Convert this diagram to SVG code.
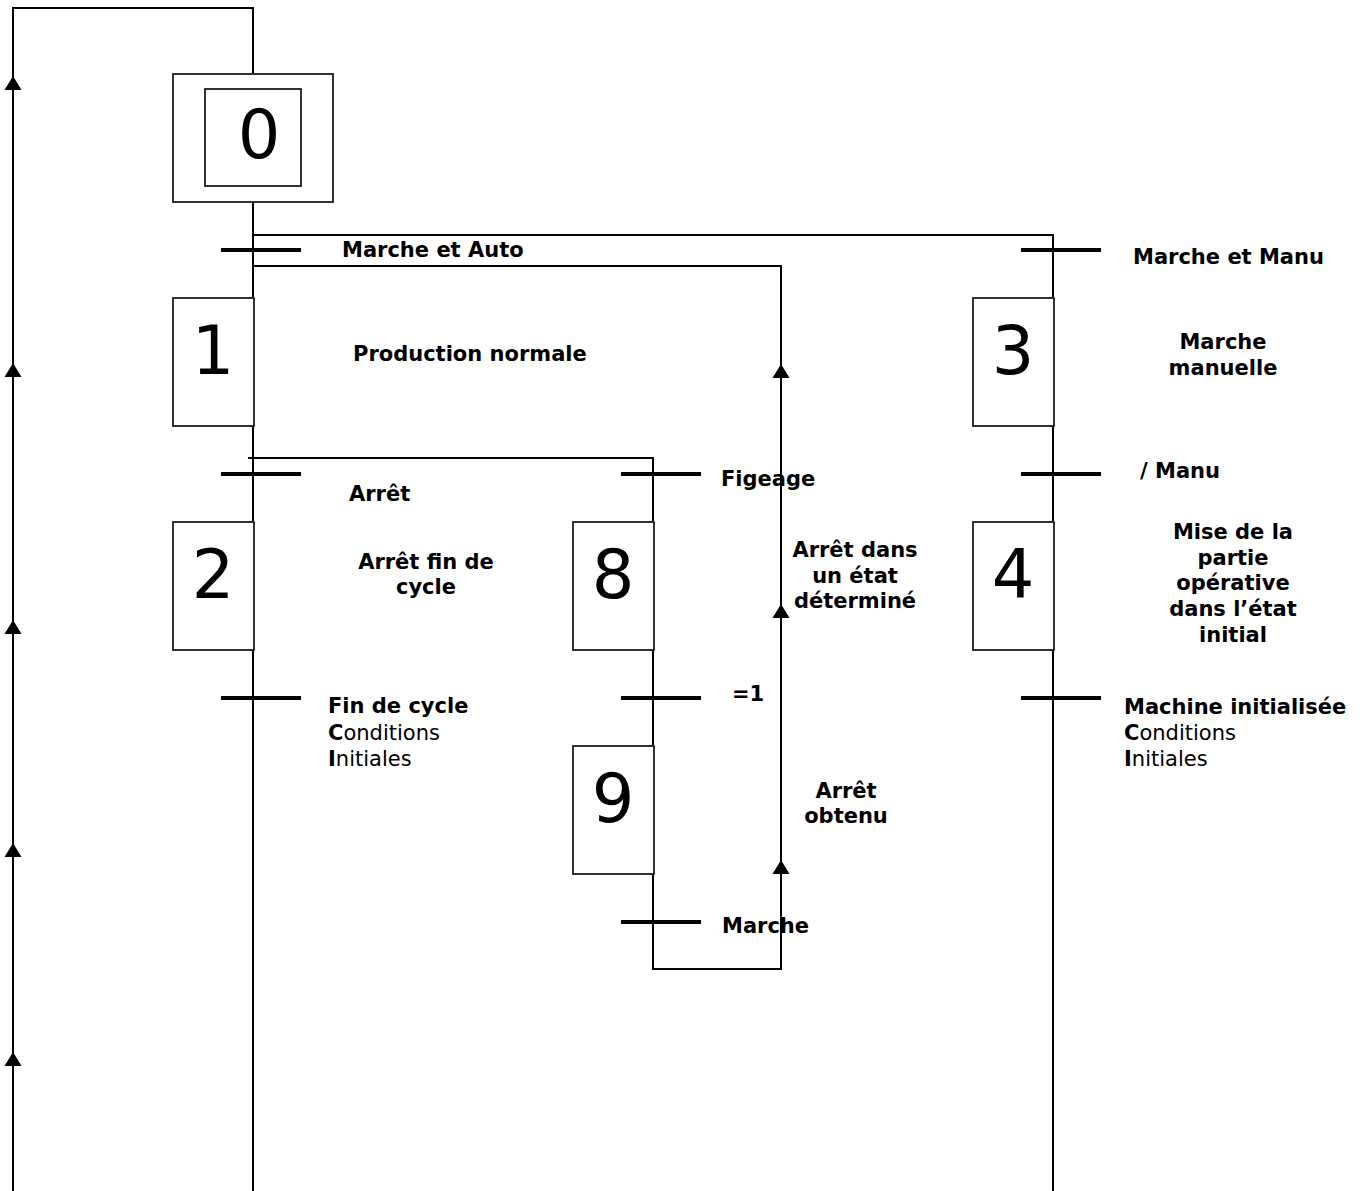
<svg xmlns="http://www.w3.org/2000/svg" xmlns:xlink="http://www.w3.org/1999/xlink" width="1365" height="1191" viewBox="0 0 1365 1191">
<style>
.ln{fill:none;stroke:#000;stroke-width:2}
.box{fill:#fff;stroke:#000;stroke-width:1.6}
.bar{stroke:#000;stroke-width:4}
.num{font-family:"DejaVu Sans","Liberation Sans",sans-serif;font-size:67px;fill:#000;text-anchor:middle}
.lb{font-family:"DejaVu Sans","Liberation Sans",sans-serif;font-size:21px;font-weight:bold;fill:#000}
.rg{font-family:"DejaVu Sans","Liberation Sans",sans-serif;font-size:21px;font-weight:normal;fill:#000}
.c{text-anchor:middle}
</style>
<defs>
<path id="arr" d="M0,0 L8.5,14 L-8.5,14 Z" fill="#000"/>
<line id="bar" x1="-32" y1="0" x2="48" y2="0" class="bar"/>
</defs>
<rect width="1365" height="1191" fill="#fff"/>
<g id="connectors">
<path class="ln" d="M253,73 V8 H13 V1191"/>
<path class="ln" d="M253,202 V297 M253,426 V521 M253,650 V1191"/>
<path class="ln" d="M253,235 H1053 V297 M1053,426 V521 M1053,650 V1191"/>
<path class="ln" d="M653,874 V969 H781 V266 H253"/>
<path class="ln" d="M248,458 H653 V521 M653,650 V745"/>
<use xlink:href="#arr" x="13" y="76"/>
<use xlink:href="#arr" x="13" y="363"/>
<use xlink:href="#arr" x="13" y="620"/>
<use xlink:href="#arr" x="13" y="843"/>
<use xlink:href="#arr" x="13" y="1052"/>
<use xlink:href="#arr" x="781" y="364"/>
<use xlink:href="#arr" x="781" y="604"/>
<use xlink:href="#arr" x="781" y="860"/>
</g>
<g id="step0">
<rect class="box" x="173" y="74" width="160" height="128"/>
<rect class="box" x="205" y="89" width="96" height="97"/>
<text class="num" x="259" y="158">0</text>
</g>
<g id="t01">
<use xlink:href="#bar" x="253" y="250"/>
<text class="lb" x="342" y="257">Marche et Auto</text>
</g>
<g id="t03">
<use xlink:href="#bar" x="1053" y="250"/>
<text class="lb" x="1133" y="264">Marche et Manu</text>
</g>
<g id="step1">
<rect class="box" x="173" y="298" width="81" height="128"/>
<text class="num" x="213" y="374">1</text>
<text class="lb" x="353" y="361">Production normale</text>
</g>
<g id="step3">
<rect class="box" x="973" y="298" width="81" height="128"/>
<text class="num" x="1013" y="374">3</text>
<text class="lb c" x="1223" y="349">Marche</text>
<text class="lb c" x="1223" y="375">manuelle</text>
</g>
<g id="t12">
<use xlink:href="#bar" x="253" y="474"/>
<text class="lb" x="349" y="501">Arrêt</text>
</g>
<g id="t18">
<use xlink:href="#bar" x="653" y="474"/>
<text class="lb" x="721" y="486">Figeage</text>
</g>
<g id="t34">
<use xlink:href="#bar" x="1053" y="474"/>
<text class="lb" x="1140" y="478">/ Manu</text>
</g>
<g id="step2">
<rect class="box" x="173" y="522" width="81" height="128"/>
<text class="num" x="213" y="598">2</text>
<text class="lb c" x="426" y="569">Arrêt fin de</text>
<text class="lb c" x="426" y="594">cycle</text>
</g>
<g id="step8">
<rect class="box" x="573" y="522" width="81" height="128"/>
<text class="num" x="613" y="598">8</text>
<text class="lb c" x="855" y="557">Arrêt dans</text>
<text class="lb c" x="855" y="582.5">un état</text>
<text class="lb c" x="855" y="608">déterminé</text>
</g>
<g id="step4">
<rect class="box" x="973" y="522" width="81" height="128"/>
<text class="num" x="1013" y="598">4</text>
<text class="lb c" x="1233" y="539">Mise de la</text>
<text class="lb c" x="1233" y="565">partie</text>
<text class="lb c" x="1233" y="590">opérative</text>
<text class="lb c" x="1233" y="616">dans l’état</text>
<text class="lb c" x="1233" y="642">initial</text>
</g>
<g id="t20">
<use xlink:href="#bar" x="253" y="698"/>
<text class="lb" x="328" y="713">Fin de cycle</text>
<text class="rg" x="328" y="740"><tspan font-weight="bold">C</tspan>onditions</text>
<text class="rg" x="328" y="766"><tspan font-weight="bold">I</tspan>nitiales</text>
</g>
<g id="t89">
<use xlink:href="#bar" x="653" y="698"/>
<text class="lb" x="732" y="701">=1</text>
</g>
<g id="t40">
<use xlink:href="#bar" x="1053" y="698"/>
<text class="lb" x="1124" y="714">Machine initialisée</text>
<text class="rg" x="1124" y="740"><tspan font-weight="bold">C</tspan>onditions</text>
<text class="rg" x="1124" y="766"><tspan font-weight="bold">I</tspan>nitiales</text>
</g>
<g id="step9">
<rect class="box" x="573" y="746" width="81" height="128"/>
<text class="num" x="613" y="822">9</text>
<text class="lb c" x="846" y="798">Arrêt</text>
<text class="lb c" x="846" y="823">obtenu</text>
</g>
<g id="t91">
<use xlink:href="#bar" x="653" y="922"/>
<text class="lb" x="722" y="933">Marche</text>
</g>
</svg>
